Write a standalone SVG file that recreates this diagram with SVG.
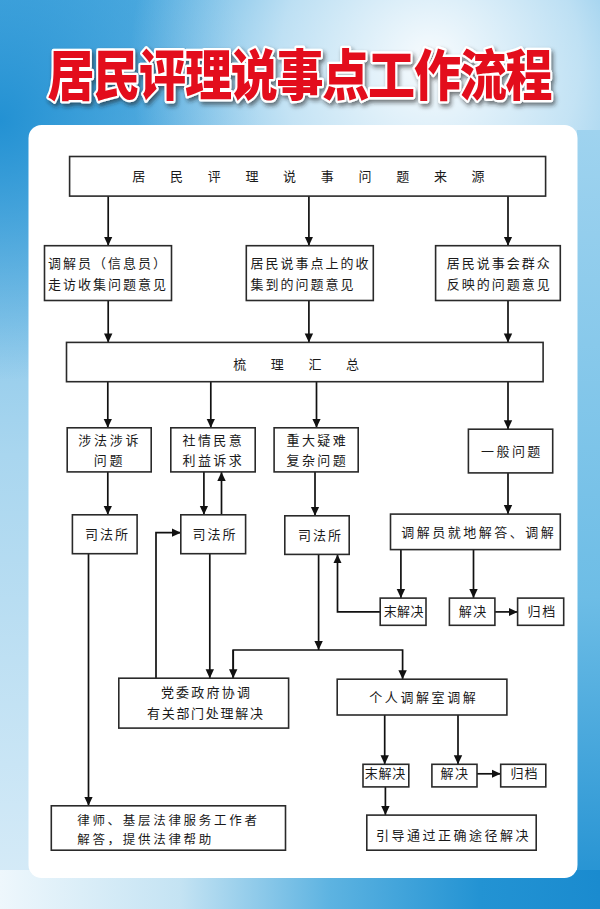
<svg xmlns="http://www.w3.org/2000/svg" width="600" height="909" viewBox="0 0 600 909">
<defs>
<style>
.b{fill:#fff;stroke:#2a2a2a;stroke-width:1.6}
.c{fill:none;stroke:#111;stroke-width:1.7}
.t{font-family:"Noto Sans CJK SC","Noto Sans",sans-serif;font-size:13px;fill:#1a1a1a;letter-spacing:2px}
</style>
<marker id="a" markerWidth="10" markerHeight="10" refX="9" refY="5" orient="auto" markerUnits="userSpaceOnUse"><path d="M0,0.8 L9,5 L0,9.2z" fill="#111"/></marker>
<linearGradient id="bg" x1="0" y1="0" x2="0" y2="1"><stop offset="0" stop-color="#58b0e2"/><stop offset="0.5" stop-color="#a9d6ef"/><stop offset="1" stop-color="#d8ecf8"/></linearGradient>
<radialGradient id="glare" cx="430" cy="60" r="300" gradientUnits="userSpaceOnUse"><stop offset="0" stop-color="#fff" stop-opacity="0.95"/><stop offset="0.5" stop-color="#fff" stop-opacity="0.6"/><stop offset="1" stop-color="#fff" stop-opacity="0"/></radialGradient>
<radialGradient id="lb" cx="0" cy="120" r="260" gradientUnits="userSpaceOnUse"><stop offset="0" stop-color="#1f8fd2" stop-opacity="0.95"/><stop offset="1" stop-color="#1f8fd2" stop-opacity="0"/></radialGradient>
<linearGradient id="bot" x1="0" y1="0" x2="1" y2="0"><stop offset="0" stop-color="#eef7fc"/><stop offset="0.3" stop-color="#c4e3f3"/><stop offset="0.55" stop-color="#5db3e1"/><stop offset="0.8" stop-color="#2393d3"/><stop offset="1" stop-color="#1a8bcf"/></linearGradient>
<linearGradient id="rt" x1="0" y1="0" x2="0" y2="1"><stop offset="0" stop-color="#9fd3ef"/><stop offset="0.6" stop-color="#6dbde6"/><stop offset="1" stop-color="#1f8fd1"/></linearGradient>
<filter id="sh" x="-10%" y="-30%" width="120%" height="160%"><feGaussianBlur in="SourceAlpha" stdDeviation="2"/><feOffset dx="2" dy="3" result="o"/><feFlood flood-color="#222" flood-opacity="0.6"/><feComposite in2="o" operator="in"/><feMerge><feMergeNode/><feMergeNode in="SourceGraphic"/></feMerge></filter>
</defs>
<g id="background">
<rect x="0" y="0" width="600" height="909" fill="url(#bg)"/>
<rect x="0" y="0" width="600" height="909" fill="url(#lb)"/>
<rect x="0" y="0" width="600" height="909" fill="url(#glare)"/>
<rect x="577" y="130" width="23" height="779" fill="url(#rt)"/>
<rect x="0" y="870" width="600" height="39" fill="url(#bot)"/>
<rect x="28.5" y="125" width="549" height="753" rx="13" fill="#fff"/>
</g>
<g id="title" filter="url(#sh)">
<text x="300" y="0" transform="translate(0,95) scale(1,1.17)" text-anchor="middle" textLength="505" lengthAdjust="spacing" font-family="'Noto Sans CJK SC',sans-serif" font-weight="900" font-size="47" fill="#e3111d" stroke="#fff" stroke-width="4" paint-order="stroke" stroke-linejoin="round">居民评理说事点工作流程</text>
</g>
<g id="connectors" class="c">
<path d="M108.2,196.1V245.7" marker-end="url(#a)"/>
<path d="M308.9,196.1V245.7" marker-end="url(#a)"/>
<path d="M508,196.1V245.7" marker-end="url(#a)"/>
<path d="M108.2,300.5V342.4" marker-end="url(#a)"/>
<path d="M308.9,300.5V342.4" marker-end="url(#a)"/>
<path d="M508,300.5V342.4" marker-end="url(#a)"/>
<path d="M508,349V374" marker-end="url(#a)"/>
<path d="M107.8,381.7V427.8" marker-end="url(#a)"/>
<path d="M210.8,381.7V427.8" marker-end="url(#a)"/>
<path d="M316.5,381.7V427.8" marker-end="url(#a)"/>
<path d="M508,381.7V429.2" marker-end="url(#a)"/>
<path d="M107.8,471.9V514.8" marker-end="url(#a)"/>
<path d="M203.9,471.9V514.8" marker-end="url(#a)"/>
<path d="M221.5,514.8V471.9" marker-end="url(#a)"/>
<path d="M315,471.9V515.8" marker-end="url(#a)"/>
<path d="M508,472.9V514.1" marker-end="url(#a)"/>
<path d="M400.9,549.6V598.1" marker-end="url(#a)"/>
<path d="M473.5,549.6V598.1" marker-end="url(#a)"/>
<path d="M494.9,611.9H517.6" marker-end="url(#a)"/>
<path d="M380.2,611.9H337.5V554.4" marker-end="url(#a)"/>
<path d="M88.5,553.7V805.8" marker-end="url(#a)"/>
<path d="M209.8,553.7V678.2" marker-end="url(#a)"/>
<path d="M156,678.2V532.7H180.8" marker-end="url(#a)"/>
<path d="M318.6,554.4V650" marker-end="url(#a)"/>
<path d="M233.2,678.2V650H402.6V679.2" marker-end="url(#a)"/>
<path d="M233.2,650V678.2" marker-end="url(#a)"/>
<path d="M384.7,715V764.3" marker-end="url(#a)"/>
<path d="M458,715V764.3" marker-end="url(#a)"/>
<path d="M477,773.8H500.7" marker-end="url(#a)"/>
<path d="M385.4,786.9V815.1" marker-end="url(#a)"/>
</g>
<g id="n-source"><rect class="b" x="69.6" y="156.5" width="476" height="39.6"/><text class="t" x="132.3" y="180.7" style="letter-spacing:24.7px">居民评理说事问题来源</text></g>
<g id="n-visit"><rect class="b" x="44.5" y="245.7" width="127" height="54.8"/><text class="t" x="47.9" y="267.8">调解员（信息员）</text><text class="t" x="47.9" y="289.1">走访收集问题意见</text></g>
<g id="n-point"><rect class="b" x="246.3" y="245.7" width="127" height="54.8"/><text class="t" x="250.4" y="267.8">居民说事点上的收</text><text class="t" x="250.4" y="289.1">集到的问题意见</text></g>
<g id="n-meeting"><rect class="b" x="435.6" y="245.7" width="124.7" height="54.8"/><text class="t" x="446.7" y="267.8">居民说事会群众</text><text class="t" x="446.7" y="289.1">反映的问题意见</text></g>
<g id="n-summary"><rect class="b" x="66.5" y="342.4" width="476.6" height="39.3"/><text class="t" x="233.2" y="368.9" style="letter-spacing:24.6px">梳理汇总</text></g>
<g id="n-legal"><rect class="b" x="67.2" y="427.8" width="84" height="44.1"/><text class="t" x="78.2" y="445.4" style="letter-spacing:2.8px">涉法涉诉</text><text class="t" x="93.7" y="465.4" style="letter-spacing:2.8px">问题</text></g>
<g id="n-social"><rect class="b" x="170.8" y="427.8" width="84.4" height="44.1"/><text class="t" x="182.5" y="445.4" style="letter-spacing:2.4px">社情民意</text><text class="t" x="182.5" y="465.4" style="letter-spacing:2.4px">利益诉求</text></g>
<g id="n-major"><rect class="b" x="274.1" y="427.8" width="84.1" height="44.1"/><text class="t" x="286.5" y="445.4" style="letter-spacing:2.4px">重大疑难</text><text class="t" x="286.5" y="465.4" style="letter-spacing:2.4px">复杂问题</text></g>
<g id="n-general"><rect class="b" x="468.4" y="429.2" width="84.3" height="43.7"/><text class="t" x="481.1" y="455.7" style="letter-spacing:2.4px">一般问题</text></g>
<g id="n-court1"><rect class="b" x="72.4" y="514.8" width="64.7" height="38.9"/><text class="t" x="85.1" y="538.9">司法所</text></g>
<g id="n-court2"><rect class="b" x="180.8" y="514.8" width="64.8" height="38.9"/><text class="t" x="192.5" y="538.9">司法所</text></g>
<g id="n-court3"><rect class="b" x="284.8" y="515.8" width="64.4" height="38.6"/><text class="t" x="297.9" y="539.6">司法所</text></g>
<g id="n-onsite"><rect class="b" x="390.5" y="514.1" width="169.8" height="35.5"/><text class="t" x="401.2" y="537.2" style="letter-spacing:2.5px">调解员就地解答、调解</text></g>
<g id="n-unsolved1"><rect class="b" x="380.2" y="598.1" width="45.8" height="27.2"/><text class="t" x="383.7" y="616.4" style="letter-spacing:0.4px">末解决</text></g>
<g id="n-solved1"><rect class="b" x="449.4" y="598.1" width="45.5" height="27.2"/><text class="t" x="458.7" y="616.4" style="letter-spacing:1.6px">解决</text></g>
<g id="n-archive1"><rect class="b" x="517.6" y="598.1" width="46.1" height="27.2"/><text class="t" x="527.6" y="616.4" style="letter-spacing:1.6px">归档</text></g>
<g id="n-gov"><rect class="b" x="118.8" y="678.2" width="169.8" height="49.9"/><text class="t" x="160.9" y="697.2" style="letter-spacing:2.2px">党委政府协调</text><text class="t" x="147" y="718.2" style="letter-spacing:1.7px">有关部门处理解决</text></g>
<g id="n-room"><rect class="b" x="337.2" y="679.2" width="169.7" height="35.8"/><text class="t" x="369.2" y="701.6" style="letter-spacing:2.6px">个人调解室调解</text></g>
<g id="n-unsolved2"><rect class="b" x="363" y="764.3" width="45.8" height="22.6"/><text class="t" x="364.7" y="778.3" style="letter-spacing:0.8px">末解决</text></g>
<g id="n-solved2"><rect class="b" x="431.9" y="764.3" width="45.1" height="22.6"/><text class="t" x="440.5" y="778.3" style="letter-spacing:1.5px">解决</text></g>
<g id="n-archive2"><rect class="b" x="500.7" y="764.3" width="45.1" height="22.6"/><text class="t" x="510.4" y="778.3" style="letter-spacing:1px">归档</text></g>
<g id="n-guide"><rect class="b" x="366.8" y="815.1" width="169.4" height="35.1"/><text class="t" x="376" y="839.6" style="letter-spacing:2.5px">引导通过正确途径解决</text></g>
<g id="n-lawyer"><rect class="b" x="51.3" y="805.8" width="234.2" height="44.4"/><text class="t" x="77.2" y="825" style="font-size:12.5px;letter-spacing:2.7px">律师、基层法律服务工作者</text><text class="t" x="77.2" y="843.5" style="font-size:12.5px;letter-spacing:2.7px">解答，提供法律帮助</text></g>
</svg>
